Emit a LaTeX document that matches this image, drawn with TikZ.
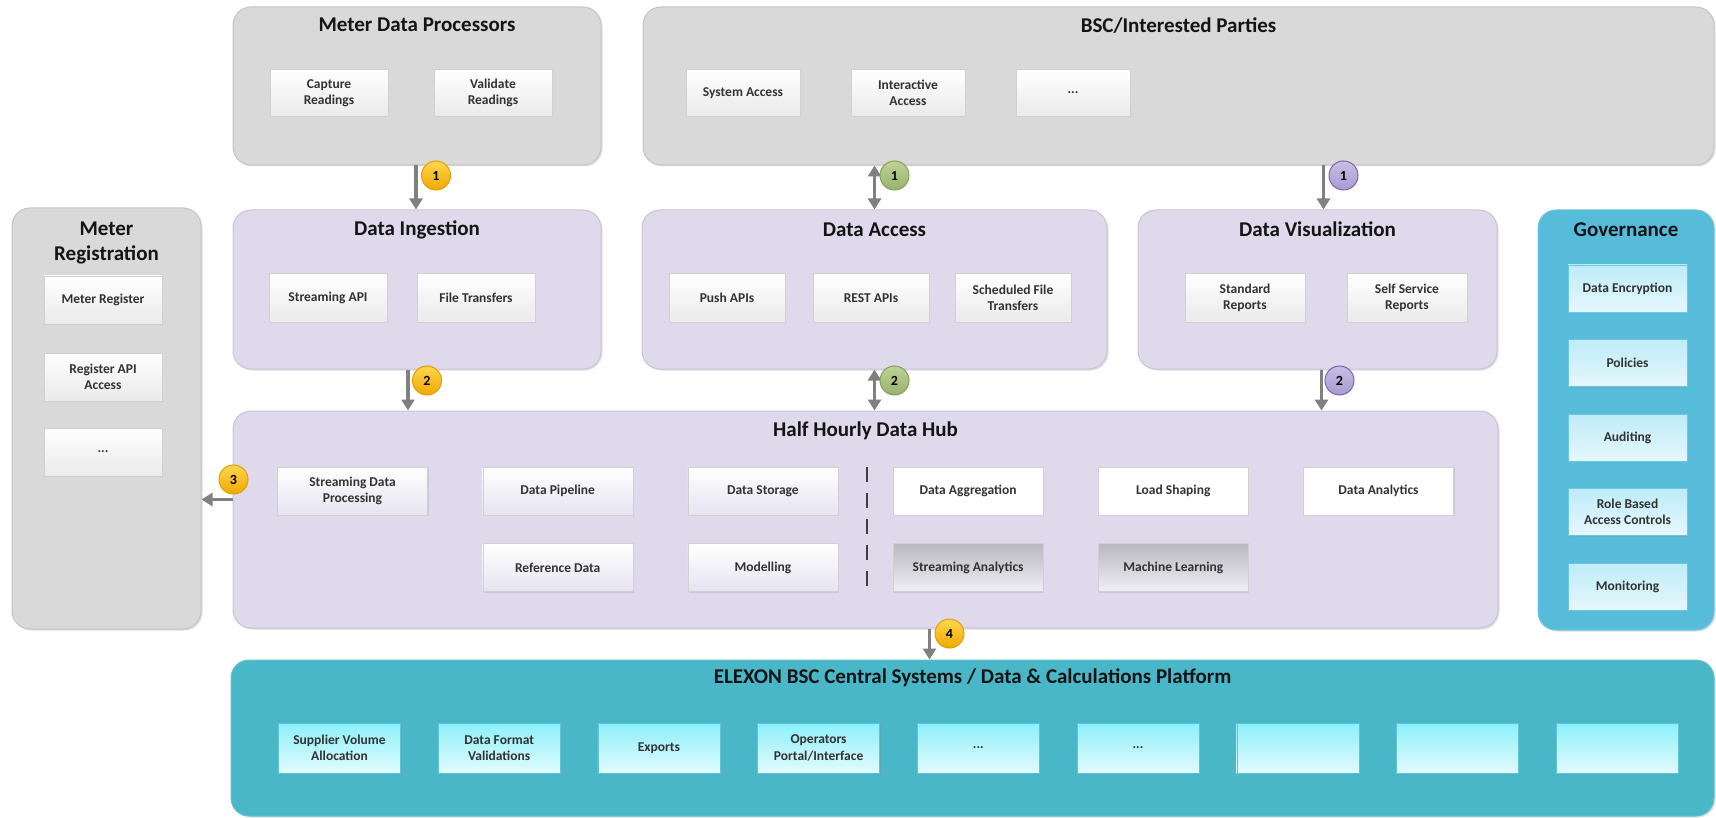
\documentclass[tikz,border=0pt]{standalone}
\usepackage{fontspec}
\setmainfont{Carlito}
\usepackage{tikz}
\usetikzlibrary{positioning, arrows.meta, shadows}

\definecolor{greyfill}{RGB}{217,217,217}
\definecolor{greyline}{RGB}{196,196,196}
\definecolor{lilacfill}{RGB}{222,218,235}
\definecolor{lilacline}{RGB}{200,195,218}
\definecolor{govfill}{RGB}{86,188,218}
\definecolor{govline}{RGB}{110,198,224}
\definecolor{govlite}{RGB}{190,236,248}
\definecolor{elxfill}{RGB}{74,183,200}
\definecolor{elxline}{RGB}{98,194,208}
\definecolor{elxlite}{RGB}{140,240,250}
\definecolor{itemline}{RGB}{208,208,208}
\definecolor{itemgrey}{RGB}{234,234,234}
\definecolor{itemlilac}{RGB}{230,227,240}
\definecolor{darkgrey}{RGB}{184,184,190}
\definecolor{arrowgrey}{RGB}{128,128,128}
\definecolor{titletext}{RGB}{20,20,20}
\definecolor{itemtext}{RGB}{50,50,50}
\definecolor{goldtop}{RGB}{255,214,80}
\definecolor{goldbot}{RGB}{240,168,0}
\definecolor{goldline}{RGB}{226,158,0}
\definecolor{greentop}{RGB}{190,210,150}
\definecolor{greenbot}{RGB}{152,178,108}
\definecolor{greenline}{RGB}{132,160,92}
\definecolor{violettop}{RGB}{200,190,230}
\definecolor{violetbot}{RGB}{168,154,208}
\definecolor{violetline}{RGB}{118,102,172}

\tikzstyle{panel} = [rectangle, rounded corners=18pt, line width=1pt, draw=greyline,
fill=greyfill, drop shadow={shadow xshift=1.5pt, shadow yshift=-1.5pt, opacity=0.25}]
\tikzstyle{lilac} = [panel, draw=lilacline, fill=lilacfill]
\tikzstyle{title} = [font=\fontsize{21}{25}\selectfont\bfseries, text=titletext,
align=center]
\tikzstyle{item} = [rectangle, minimum height=47pt, inner sep=2pt, align=center,
font=\fontsize{13.5}{16.5}\selectfont\bfseries, text=itemtext, draw=itemline,
top color=white, bottom color=itemgrey, drop shadow={shadow xshift=1pt,
shadow yshift=-1pt, opacity=0.2}]
\tikzstyle{hubitem} = [item, minimum width=150pt, minimum height=48pt,
top color=white, bottom color=itemlilac]
\tikzstyle{plain} = [hubitem, fill=white, top color=white, bottom color=white]
\tikzstyle{dim} = [hubitem, shading angle=60, top color=darkgrey,
bottom color=itemlilac!60!white]
\tikzstyle{govitem} = [item, minimum width=119pt, draw=govline, top color=govlite,
bottom color=govlite!40!white]
\tikzstyle{elxitem} = [item, minimum width=122pt, minimum height=50pt, draw=elxline,
shading angle=30, top color=elxlite, bottom color=elxlite!25!white]
\tikzstyle{badge} = [circle, minimum size=29pt, inner sep=0pt, line width=1pt,
font=\fontsize{14}{16}\selectfont\bfseries, text=black]
\tikzstyle{gold} = [badge, draw=goldline, top color=goldtop, bottom color=goldbot]
\tikzstyle{green} = [badge, draw=greenline, top color=greentop, bottom color=greenbot]
\tikzstyle{violet} = [badge, draw=violetline, top color=violettop,
bottom color=violetbot]
\tikzstyle{arrow} = [line width=3.5pt, draw=arrowgrey,
-{Triangle[length=11pt,width=13pt]}]
\tikzstyle{twoway} = [arrow, {Triangle[length=11pt,width=13pt]}-{Triangle[length=11pt,width=13pt]}]
\tikzstyle{divider} = [line width=2pt, draw=black!75, dash pattern=on 15pt off 11pt]

\begin{document}
\begin{tikzpicture}[x=1pt, y=-1pt]
    \useasboundingbox (0,0) rectangle (1716,818);

    % top row
    \node (mdp) [panel, minimum width=368pt, minimum height=158pt] at (417,86) {};
    \node (tmdp) [title] at ([yshift=-18pt]mdp.north) {Meter Data Processors};
    \node (cap) [item, minimum width=118pt] at (329,93) {Capture\\Readings};
    \node (val) [item, minimum width=118pt, right of=cap, node distance=164pt] {Validate\\Readings};

    \node (bsc) [panel, minimum width=1071pt, minimum height=158pt] at (1178.5,86) {};
    \node (tbsc) [title] at ([yshift=-19pt]bsc.north) {BSC/Interested Parties};
    \node (sys) [item, minimum width=114pt] at (743,93) {System Access};
    \node (ia) [item, minimum width=114pt, right of=sys, node distance=165pt] {Interactive\\Access};
    \node (more) [item, minimum width=114pt, right of=ia, node distance=165pt] {...};

    % middle row
    \node (reg) [panel, minimum width=189pt, minimum height=421pt] at (106.5,418.5) {};
    \node (treg) [title] at ([yshift=-35.5pt]reg.north) {Meter\\Registration};
    \node (mreg) [item, minimum width=118pt, minimum height=48pt] at (103,300) {Meter Register};
    \node (rapi) [item, minimum width=118pt, minimum height=48pt, below of=mreg, node distance=77pt] {Register API\\Access};
    \node (rmore) [item, minimum width=118pt, minimum height=48pt, below of=rapi, node distance=75pt] {...};

    \node (ing) [lilac, minimum width=368pt, minimum height=159pt] at (417,289.5) {};
    \node (ting) [title] at ([yshift=-20pt]ing.north) {Data Ingestion};
    \node (sapi) [item, minimum width=118pt, minimum height=49pt] at (328,298) {Streaming API};
    \node (ft) [item, minimum width=118pt, minimum height=49pt, right of=sapi, node distance=148pt] {File Transfers};

    \node (acc) [lilac, minimum width=465pt, minimum height=159pt] at (874.5,289.5) {};
    \node (tacc) [title] at ([yshift=-20pt]acc.north) {Data Access};
    \node (push) [item, minimum width=116pt, minimum height=49pt] at (727,298) {Push APIs};
    \node (rest) [item, minimum width=116pt, minimum height=49pt, right of=push, node distance=144pt] {REST APIs};
    \node (sft) [item, minimum width=116pt, minimum height=49pt, right of=rest, node distance=142pt] {Scheduled File\\Transfers};

    \node (vis) [lilac, minimum width=359pt, minimum height=159pt] at (1317.5,289.5) {};
    \node (tvis) [title] at ([yshift=-20pt]vis.north) {Data Visualization};
    \node (std) [item, minimum width=120pt, minimum height=49pt] at (1245,298) {Standard\\Reports};
    \node (self) [item, minimum width=120pt, minimum height=49pt, right of=std, node distance=162pt] {Self Service\\Reports};

    \node (gov) [panel, draw=govline, fill=govfill, minimum width=176pt, minimum height=420pt] at (1626,420) {};
    \node (tgov) [title] at ([yshift=-20pt]gov.north) {Governance};
    \node (enc) [govitem] at (1627.5,288.5) {Data Encryption};
    \node (pol) [govitem, below of=enc, node distance=74.5pt] {Policies};
    \node (aud) [govitem, below of=pol, node distance=74.5pt] {Auditing};
    \node (rbac) [govitem, below of=aud, node distance=74.5pt] {Role Based\\Access Controls};
    \node (mon) [govitem, below of=rbac, node distance=74.5pt] {Monitoring};

    % data hub
    \node (hub) [lilac, minimum width=1265pt, minimum height=217pt] at (865.5,519.5) {};
    \node (thub) [title] at ([yshift=-20pt]hub.north) {Half Hourly Data Hub};
    \node (sdp) [hubitem] at (352.5,491) {Streaming Data\\Processing};
    \node (pipe) [hubitem, right of=sdp, node distance=205.2pt] {Data Pipeline};
    \node (stor) [hubitem, right of=pipe, node distance=205.2pt] {Data Storage};
    \node (agg) [plain, right of=stor, node distance=205.2pt] {Data Aggregation};
    \node (load) [plain, right of=agg, node distance=205.2pt] {Load Shaping};
    \node (ana) [plain, right of=load, node distance=205.2pt] {Data Analytics};
    \node (ref) [hubitem, below of=pipe, node distance=76.5pt] {Reference Data};
    \node (mod) [hubitem, right of=ref, node distance=205.2pt] {Modelling};
    \node (sana) [dim, right of=mod, node distance=205.2pt] {Streaming Analytics};
    \node (ml) [dim, right of=sana, node distance=205.2pt] {Machine Learning};
    \draw [divider] ([xshift=29pt]stor.north east) -- ([xshift=29pt]mod.south east);

    % central systems
    \node (elx) [panel, draw=elxline, fill=elxfill, minimum width=1483pt, minimum height=156pt] at (972.5,738) {};
    \node (telx) [title] at ([yshift=-18pt]elx.north) {ELEXON BSC Central Systems / Data \& Calculations Platform};
    \node (sva) [elxitem] at (339.5,748) {Supplier Volume\\Allocation};
    \node (dfv) [elxitem, right of=sva, node distance=159.7pt] {Data Format\\Validations};
    \node (exp) [elxitem, right of=dfv, node distance=159.7pt] {Exports};
    \node (opi) [elxitem, right of=exp, node distance=159.7pt] {Operators\\Portal/Interface};
    \node (e5) [elxitem, right of=opi, node distance=159.7pt] {...};
    \node (e6) [elxitem, right of=e5, node distance=159.7pt] {...};
    \node (e7) [elxitem, right of=e6, node distance=159.7pt] {};
    \node (e8) [elxitem, right of=e7, node distance=159.7pt] {};
    \node (e9) [elxitem, right of=e8, node distance=159.7pt] {};

    % flows between layers
    \draw [arrow] ([xshift=-1pt]mdp.south) -- ([xshift=-1pt]ing.north);
    \node (b1) [gold] at ([xshift=19pt,yshift=-10pt]mdp.south) {1};
    \draw [twoway] (acc.north |- bsc.south) -- (acc.north);
    \node (b2) [green] at ([xshift=20pt,yshift=-10pt]acc.north |- bsc.south) {1};
    \draw [arrow] ([xshift=6pt]vis.north |- bsc.south) -- ([xshift=6pt]vis.north);
    \node (b3) [violet] at ([xshift=26pt,yshift=-10pt]vis.north |- bsc.south) {1};

    \draw [arrow] ([xshift=-9pt]ing.south) -- ([xshift=-9pt]ing.south |- hub.north);
    \node (b4) [gold] at ([xshift=10pt,yshift=-11pt]ing.south) {2};
    \draw [twoway] (acc.south) -- (acc.south |- hub.north);
    \node (b5) [green] at ([xshift=20pt,yshift=-11pt]acc.south) {2};
    \draw [arrow] ([xshift=4pt]vis.south) -- ([xshift=4pt]vis.south |- hub.north);
    \node (b6) [violet] at ([xshift=22pt,yshift=-11pt]vis.south) {2};

    \draw [arrow] ([yshift=20pt]hub.west) -- ([yshift=20pt]hub.west -| reg.east);
    \node (b7) [gold] at ([xshift=1pt,yshift=40pt]hub.west) {3};

    \draw [arrow] ([xshift=64pt]hub.south) -- ([xshift=64pt]hub.south |- elx.north);
    \node (b8) [gold] at ([xshift=84pt,yshift=-5pt]hub.south) {4};
\end{tikzpicture}
\end{document}
